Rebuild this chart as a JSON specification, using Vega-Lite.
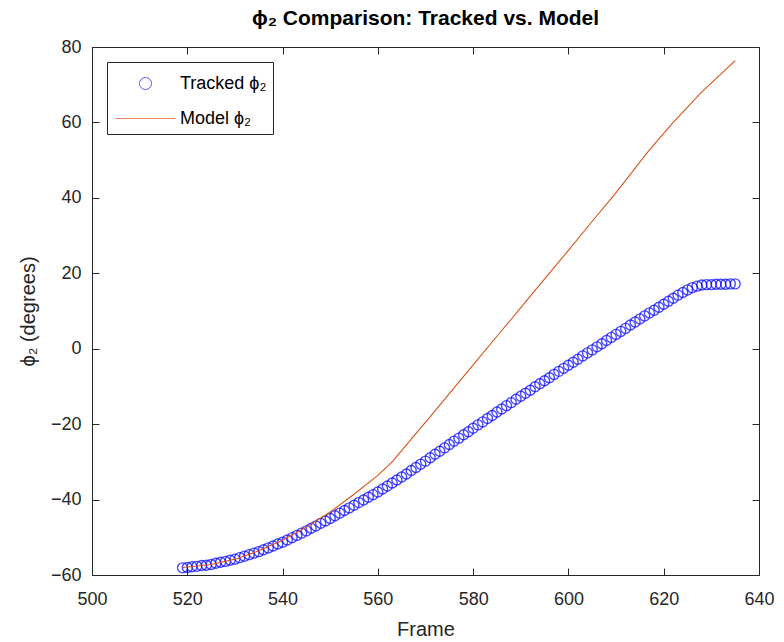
{
  "$schema": "https://vega.github.io/schema/vega-lite/v6.json",
  "autosize": {"type": "none"},
  "padding": {"left": 92, "top": 47, "right": 25, "bottom": 67},
  "width": 667,
  "height": 528,
  "background": "white",
  "title": {
    "text": "ϕ₂ Comparison: Tracked vs. Model",
    "font": "Liberation Sans",
    "fontSize": 21,
    "fontWeight": "bold",
    "color": "#000000",
    "offset": 9
  },
  "config": {
    "view": {"stroke": "#262626", "strokeWidth": 1},
    "axis": {
      "labelFont": "Liberation Sans",
      "titleFont": "Liberation Sans",
      "labelFontSize": 18,
      "titleFontSize": 20,
      "labelColor": "#262626",
      "titleColor": "#262626",
      "titleFontWeight": "normal",
      "domain": false,
      "grid": false,
      "tickColor": "#262626",
      "tickSize": -7,
      "tickWidth": 1
    },
    "legend": {
      "labelFont": "Liberation Sans",
      "labelFontSize": 18,
      "labelColor": "#000000",
      "labelLimit": 300
    }
  },
  "datasets": {
    "tracked": [
      {"frame":519,"phi":-58.1,"series":"Tracked ϕ₂"},{"frame":520,"phi":-58.0,"series":"Tracked ϕ₂"},{"frame":521,"phi":-57.8,"series":"Tracked ϕ₂"},{"frame":522,"phi":-57.7,"series":"Tracked ϕ₂"},{"frame":523,"phi":-57.5,"series":"Tracked ϕ₂"},{"frame":524,"phi":-57.4,"series":"Tracked ϕ₂"},{"frame":525,"phi":-57.2,"series":"Tracked ϕ₂"},{"frame":526,"phi":-56.9,"series":"Tracked ϕ₂"},{"frame":527,"phi":-56.6,"series":"Tracked ϕ₂"},{"frame":528,"phi":-56.4,"series":"Tracked ϕ₂"},{"frame":529,"phi":-56.1,"series":"Tracked ϕ₂"},{"frame":530,"phi":-55.8,"series":"Tracked ϕ₂"},{"frame":531,"phi":-55.4,"series":"Tracked ϕ₂"},{"frame":532,"phi":-55.0,"series":"Tracked ϕ₂"},{"frame":533,"phi":-54.6,"series":"Tracked ϕ₂"},{"frame":534,"phi":-54.2,"series":"Tracked ϕ₂"},{"frame":535,"phi":-53.8,"series":"Tracked ϕ₂"},{"frame":536,"phi":-53.3,"series":"Tracked ϕ₂"},{"frame":537,"phi":-52.8,"series":"Tracked ϕ₂"},{"frame":538,"phi":-52.3,"series":"Tracked ϕ₂"},{"frame":539,"phi":-51.8,"series":"Tracked ϕ₂"},{"frame":540,"phi":-51.3,"series":"Tracked ϕ₂"},{"frame":541,"phi":-50.7,"series":"Tracked ϕ₂"},{"frame":542,"phi":-50.1,"series":"Tracked ϕ₂"},{"frame":543,"phi":-49.5,"series":"Tracked ϕ₂"},{"frame":544,"phi":-48.9,"series":"Tracked ϕ₂"},{"frame":545,"phi":-48.3,"series":"Tracked ϕ₂"},{"frame":546,"phi":-47.6,"series":"Tracked ϕ₂"},{"frame":547,"phi":-47.0,"series":"Tracked ϕ₂"},{"frame":548,"phi":-46.3,"series":"Tracked ϕ₂"},{"frame":549,"phi":-45.7,"series":"Tracked ϕ₂"},{"frame":550,"phi":-45.0,"series":"Tracked ϕ₂"},{"frame":551,"phi":-44.3,"series":"Tracked ϕ₂"},{"frame":552,"phi":-43.6,"series":"Tracked ϕ₂"},{"frame":553,"phi":-42.9,"series":"Tracked ϕ₂"},{"frame":554,"phi":-42.2,"series":"Tracked ϕ₂"},{"frame":555,"phi":-41.5,"series":"Tracked ϕ₂"},{"frame":556,"phi":-40.8,"series":"Tracked ϕ₂"},{"frame":557,"phi":-40.1,"series":"Tracked ϕ₂"},{"frame":558,"phi":-39.4,"series":"Tracked ϕ₂"},{"frame":559,"phi":-38.7,"series":"Tracked ϕ₂"},{"frame":560,"phi":-38.0,"series":"Tracked ϕ₂"},{"frame":561,"phi":-37.2,"series":"Tracked ϕ₂"},{"frame":562,"phi":-36.4,"series":"Tracked ϕ₂"},{"frame":563,"phi":-35.6,"series":"Tracked ϕ₂"},{"frame":564,"phi":-34.8,"series":"Tracked ϕ₂"},{"frame":565,"phi":-34.0,"series":"Tracked ϕ₂"},{"frame":566,"phi":-33.2,"series":"Tracked ϕ₂"},{"frame":567,"phi":-32.3,"series":"Tracked ϕ₂"},{"frame":568,"phi":-31.5,"series":"Tracked ϕ₂"},{"frame":569,"phi":-30.6,"series":"Tracked ϕ₂"},{"frame":570,"phi":-29.8,"series":"Tracked ϕ₂"},{"frame":571,"phi":-28.9,"series":"Tracked ϕ₂"},{"frame":572,"phi":-28.0,"series":"Tracked ϕ₂"},{"frame":573,"phi":-27.2,"series":"Tracked ϕ₂"},{"frame":574,"phi":-26.3,"series":"Tracked ϕ₂"},{"frame":575,"phi":-25.4,"series":"Tracked ϕ₂"},{"frame":576,"phi":-24.5,"series":"Tracked ϕ₂"},{"frame":577,"phi":-23.7,"series":"Tracked ϕ₂"},{"frame":578,"phi":-22.8,"series":"Tracked ϕ₂"},{"frame":579,"phi":-22.0,"series":"Tracked ϕ₂"},{"frame":580,"phi":-21.1,"series":"Tracked ϕ₂"},{"frame":581,"phi":-20.2,"series":"Tracked ϕ₂"},{"frame":582,"phi":-19.4,"series":"Tracked ϕ₂"},{"frame":583,"phi":-18.5,"series":"Tracked ϕ₂"},{"frame":584,"phi":-17.7,"series":"Tracked ϕ₂"},{"frame":585,"phi":-16.8,"series":"Tracked ϕ₂"},{"frame":586,"phi":-16.0,"series":"Tracked ϕ₂"},{"frame":587,"phi":-15.1,"series":"Tracked ϕ₂"},{"frame":588,"phi":-14.3,"series":"Tracked ϕ₂"},{"frame":589,"phi":-13.4,"series":"Tracked ϕ₂"},{"frame":590,"phi":-12.6,"series":"Tracked ϕ₂"},{"frame":591,"phi":-11.8,"series":"Tracked ϕ₂"},{"frame":592,"phi":-11.0,"series":"Tracked ϕ₂"},{"frame":593,"phi":-10.1,"series":"Tracked ϕ₂"},{"frame":594,"phi":-9.3,"series":"Tracked ϕ₂"},{"frame":595,"phi":-8.5,"series":"Tracked ϕ₂"},{"frame":596,"phi":-7.7,"series":"Tracked ϕ₂"},{"frame":597,"phi":-6.8,"series":"Tracked ϕ₂"},{"frame":598,"phi":-6.0,"series":"Tracked ϕ₂"},{"frame":599,"phi":-5.2,"series":"Tracked ϕ₂"},{"frame":600,"phi":-4.4,"series":"Tracked ϕ₂"},{"frame":601,"phi":-3.6,"series":"Tracked ϕ₂"},{"frame":602,"phi":-2.8,"series":"Tracked ϕ₂"},{"frame":603,"phi":-1.9,"series":"Tracked ϕ₂"},{"frame":604,"phi":-1.1,"series":"Tracked ϕ₂"},{"frame":605,"phi":-0.3,"series":"Tracked ϕ₂"},{"frame":606,"phi":0.5,"series":"Tracked ϕ₂"},{"frame":607,"phi":1.3,"series":"Tracked ϕ₂"},{"frame":608,"phi":2.2,"series":"Tracked ϕ₂"},{"frame":609,"phi":3.0,"series":"Tracked ϕ₂"},{"frame":610,"phi":3.8,"series":"Tracked ϕ₂"},{"frame":611,"phi":4.6,"series":"Tracked ϕ₂"},{"frame":612,"phi":5.4,"series":"Tracked ϕ₂"},{"frame":613,"phi":6.3,"series":"Tracked ϕ₂"},{"frame":614,"phi":7.1,"series":"Tracked ϕ₂"},{"frame":615,"phi":7.9,"series":"Tracked ϕ₂"},{"frame":616,"phi":8.7,"series":"Tracked ϕ₂"},{"frame":617,"phi":9.5,"series":"Tracked ϕ₂"},{"frame":618,"phi":10.2,"series":"Tracked ϕ₂"},{"frame":619,"phi":11.0,"series":"Tracked ϕ₂"},{"frame":620,"phi":11.8,"series":"Tracked ϕ₂"},{"frame":621,"phi":12.6,"series":"Tracked ϕ₂"},{"frame":622,"phi":13.4,"series":"Tracked ϕ₂"},{"frame":623,"phi":14.2,"series":"Tracked ϕ₂"},{"frame":624,"phi":14.9,"series":"Tracked ϕ₂"},{"frame":625,"phi":15.6,"series":"Tracked ϕ₂"},{"frame":626,"phi":16.2,"series":"Tracked ϕ₂"},{"frame":627,"phi":16.6,"series":"Tracked ϕ₂"},{"frame":628,"phi":16.9,"series":"Tracked ϕ₂"},{"frame":629,"phi":17.0,"series":"Tracked ϕ₂"},{"frame":630,"phi":17.0,"series":"Tracked ϕ₂"},{"frame":631,"phi":17.1,"series":"Tracked ϕ₂"},{"frame":632,"phi":17.1,"series":"Tracked ϕ₂"},{"frame":633,"phi":17.1,"series":"Tracked ϕ₂"},{"frame":634,"phi":17.2,"series":"Tracked ϕ₂"},{"frame":635,"phi":17.2,"series":"Tracked ϕ₂"}
    ],
    "model": [
      {"frame":519,"phi":-58.0,"series":"Model ϕ₂"},{"frame":525,"phi":-57.2,"series":"Model ϕ₂"},{"frame":530,"phi":-55.8,"series":"Model ϕ₂"},{"frame":535,"phi":-53.6,"series":"Model ϕ₂"},{"frame":540,"phi":-50.8,"series":"Model ϕ₂"},{"frame":545,"phi":-47.3,"series":"Model ϕ₂"},{"frame":550,"phi":-43.3,"series":"Model ϕ₂"},{"frame":555,"phi":-38.6,"series":"Model ϕ₂"},{"frame":560,"phi":-33.6,"series":"Model ϕ₂"},{"frame":563,"phi":-30.0,"series":"Model ϕ₂"},{"frame":567,"phi":-24.0,"series":"Model ϕ₂"},{"frame":571,"phi":-18.0,"series":"Model ϕ₂"},{"frame":575,"phi":-11.9,"series":"Model ϕ₂"},{"frame":580,"phi":-4.3,"series":"Model ϕ₂"},{"frame":585,"phi":3.3,"series":"Model ϕ₂"},{"frame":590,"phi":10.9,"series":"Model ϕ₂"},{"frame":595,"phi":18.5,"series":"Model ϕ₂"},{"frame":600,"phi":26.1,"series":"Model ϕ₂"},{"frame":605,"phi":33.8,"series":"Model ϕ₂"},{"frame":610,"phi":41.4,"series":"Model ϕ₂"},{"frame":617,"phi":52.7,"series":"Model ϕ₂"},{"frame":622,"phi":60.0,"series":"Model ϕ₂"},{"frame":628,"phi":68.1,"series":"Model ϕ₂"},{"frame":635,"phi":76.4,"series":"Model ϕ₂"}
    ]
  },
  "layer": [
    {
      "data": {"name": "tracked"},
      "mark": {"type": "point", "filled": false, "strokeWidth": 1.4, "size": 625},
      "encoding": {
        "x": {"field": "frame", "type": "quantitative",
              "scale": {"domain": [500, 640], "nice": false, "zero": false},
              "axis": {"orient": "bottom", "values": [500,520,540,560,580,600,620,640], "title": "Frame", "labelPadding": 22, "titlePadding": 11, "labelFlush": false}},
        "y": {"field": "phi", "type": "quantitative",
              "scale": {"domain": [-60, 80], "nice": false, "zero": false},
              "axis": {"orient": "left", "values": [-60,-40,-20,0,20,40,60,80], "title": "ϕ₂ (degrees)", "labelPadding": 18, "titlePadding": 12, "labelFlush": false}},
        "color": {"field": "series", "type": "nominal",
                  "scale": {"domain": ["Tracked ϕ₂", "Model ϕ₂"], "range": ["#0000ff", "#d95319"]},
                  "legend": {
                    "title": null,
                    "orient": "top-left",
                    "offset": 15,
                    "padding": 6,
                    "fillColor": "white",
                    "strokeColor": "#262626",
                    "labelFont": "Liberation Sans",
                    "labelFontSize": 18,
                    "labelColor": "#000000",
                    "symbolSize": 900,
                    "symbolStrokeWidth": 1,
                    "symbolOffset": 17,
                    "labelOffset": 19,
                    "rowPadding": 10
                  }},
        "shape": {"field": "series", "type": "nominal",
                  "scale": {"domain": ["Tracked ϕ₂", "Model ϕ₂"], "range": ["M0.4,0A0.4,0.4 0 1,1 -0.4,0A0.4,0.4 0 1,1 0.4,0Z", "M-2,0L2,0"]}}
      }
    },
    {
      "data": {"name": "model"},
      "mark": {"type": "line", "strokeWidth": 1.1},
      "encoding": {
        "x": {"field": "frame", "type": "quantitative",
              "axis": {"orient": "top", "values": [500,520,540,560,580,600,620,640], "labels": false, "title": null}},
        "y": {"field": "phi", "type": "quantitative",
              "axis": {"orient": "right", "values": [-60,-40,-20,0,20,40,60,80], "labels": false, "title": null}},
        "color": {"field": "series", "type": "nominal"}
      }
    }
  ],
  "resolve": {"axis": {"x": "independent", "y": "independent"}}
}
